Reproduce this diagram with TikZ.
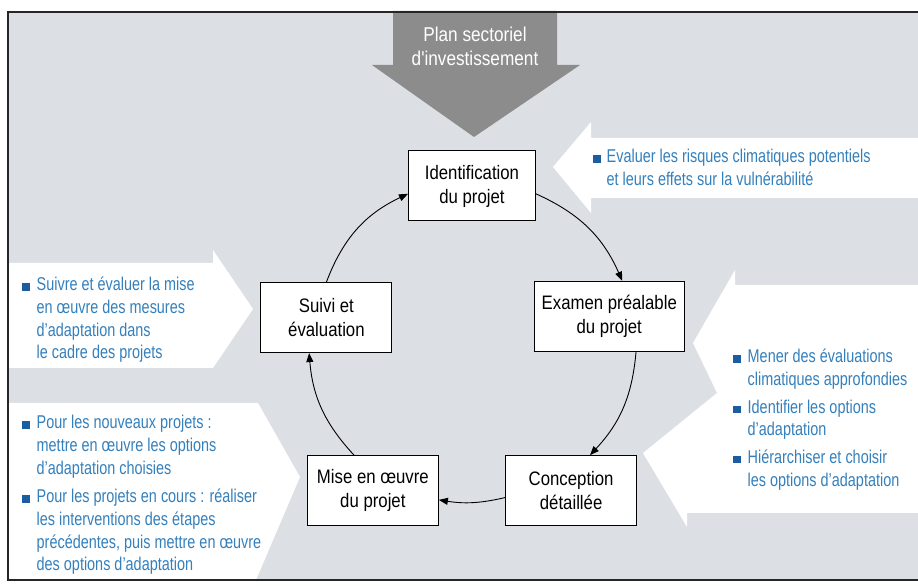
\documentclass[tikz,border=0pt]{standalone}
\usepackage{fontspec}
\setmainfont{Liberation Sans}[FakeStretch=0.78]
\newfontfamily\boxfont{Liberation Sans}[FakeStretch=0.86]
\usetikzlibrary{arrows.meta}
\definecolor{panel}{RGB}{220,223,227}
\definecolor{banner}{RGB}{140,140,140}
\definecolor{notetext}{RGB}{52,128,188}
\definecolor{notemark}{RGB}{28,92,160}
\newcommand{\sqbullet}{\textcolor{notemark}{\rule{7.5pt}{7.5pt}}}
\begin{document}
\begin{tikzpicture}[x=1pt,y=1pt,
    stage/.style={draw,line width=1pt,fill=white,minimum height=70pt,minimum width=131pt,
      align=center,font={\boxfont\fontsize{19.5}{24}\selectfont}},
    title/.style={text=white,align=center,font={\boxfont\fontsize{20}{24}\selectfont}},
    note/.style={anchor=north west,inner sep=0pt,text=notetext,font={\fontsize{18.5}{22.7}\selectfont}},
    cyc/.style={line width=0.9pt,-{Triangle[length=9pt,width=7pt]}}]
  \useasboundingbox (0,0) rectangle (918,588);
  \fill[white] (0,0) rectangle (918,588);
  \fill[panel] (8,8) rectangle (930,576);
  \fill[white] (8,325) -- (213,325) -- (213,338) -- (253,279) -- (213,220) -- (8,220) -- cycle;
  \fill[white] (8,185) -- (258,185) -- (300,111) -- (256,8) -- (8,8) -- cycle;
  \fill[white] (930,450) -- (591,450) -- (591,466) -- (553,421) -- (591,375) -- (591,390) -- (930,390) -- cycle;
  \fill[white] (930,303) -- (735,303) -- (735,318) -- (693,245) -- (717,195) -- (643,135)
    -- (687,61) -- (687,75) -- (930,75) -- cycle;
  \fill[banner] (393,577) -- (557,577) -- (557,523) -- (580,523) -- (474,451) -- (372,523) -- (393,523) -- cycle;
  \node[title] (plan) at (475,542) {Plan sectoriel\\d'investissement};
  \draw[line width=1.5pt,black!85] (930,576) -- (8,576) -- (8,8) -- (930,8);

  \node[note] (risques) at (593,441.4) {\begin{tabular}{@{}l@{\hspace{6pt}}l@{}}
    \sqbullet & Evaluer les risques climatiques potentiels\\
              & et leurs effets sur la vulnérabilité
  \end{tabular}};
  \node[note] (options) at (733,241.4) {\begin{tabular}{@{}l@{\hspace{7pt}}l@{}}
    \sqbullet & Mener des évaluations\\
              & climatiques approfondies\\[5pt]
    \sqbullet & Identifier les options\\
              & d'adaptation\\[5pt]
    \sqbullet & Hiérarchiser et choisir\\
              & les options d'adaptation
  \end{tabular}};
  \node[note] (suivre) at (22,313.4) {\begin{tabular}{@{}l@{\hspace{7pt}}l@{}}
    \sqbullet & Suivre et évaluer la mise\\
              & en œuvre des mesures\\
              & d'adaptation dans\\
              & le cadre des projets
  \end{tabular}};
  \node[note] (realiser) at (22,175.4) {\begin{tabular}{@{}l@{\hspace{7pt}}l@{}}
    \sqbullet & Pour les nouveaux projets :\\
              & mettre en œuvre les options\\
              & d'adaptation choisies\\[6pt]
    \sqbullet & Pour les projets en cours : réaliser\\
              & les interventions des étapes\\
              & précédentes, puis mettre en œuvre\\
              & des options d'adaptation
  \end{tabular}};

  \begin{scope}[shift={(472,250)}]
    \draw
      (90:152) node[stage,minimum width=127pt] (ident) {Identification\\du projet}
      (9:139) node[stage,minimum width=150pt] (examen) {Examen préalable\\du projet}
      (303:182) node[stage] (concep) {Conception\\détaillée}
      (237:182) node[stage] (mise) {Mise en œuvre\\du projet}
      (172:147) node[stage] (suivi) {Suivi et\\évaluation};
  \end{scope}
  \draw[cyc] (suivi.north) to[bend left=22] (ident.187);
  \draw[cyc] (ident.353) to[bend left=21] (examen.70);
  \draw[cyc] (examen.-53) to[bend left=19] (concep.62);
  \draw[cyc] (concep.186) to[bend left=11] (mise.352);
  \draw[cyc] (mise.118) to[bend left=19] (suivi.244);
\end{tikzpicture}
\end{document}
